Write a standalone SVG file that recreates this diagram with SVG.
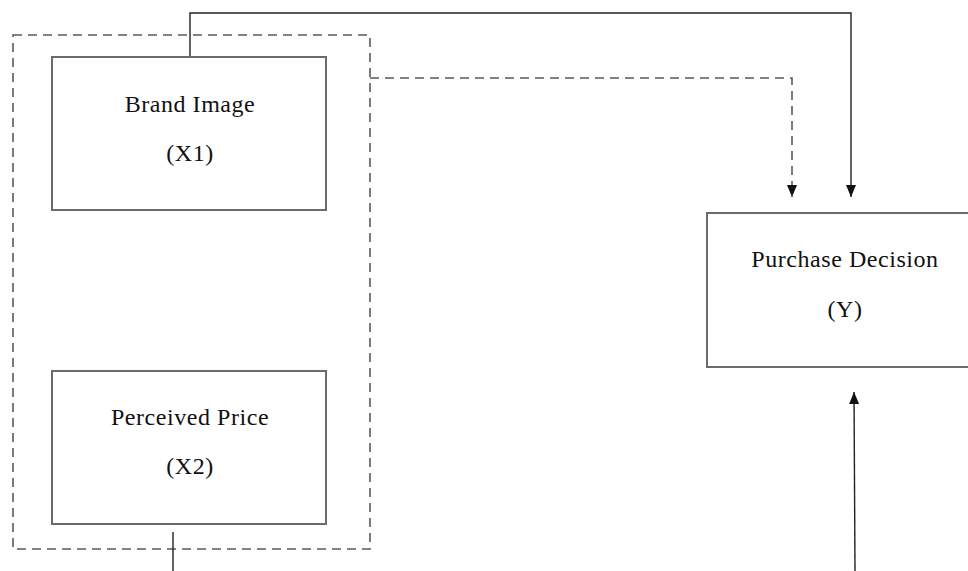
<svg xmlns="http://www.w3.org/2000/svg" width="968" height="571" viewBox="0 0 968 571">
<style>
.box{fill:#fff;stroke:#6b6b6b;stroke-width:2}
.dash{fill:none;stroke:#5a5a5a;stroke-width:1.6;stroke-dasharray:9 6}
.line{fill:none;stroke:#222;stroke-width:1.4}
.t{font-family:"Liberation Serif","Times New Roman",serif;font-size:24px;letter-spacing:0.55px;fill:#111;text-anchor:middle}
</style>
<defs>
<marker id="ah" markerWidth="12" markerHeight="10" refX="12" refY="5" orient="auto" markerUnits="userSpaceOnUse" viewBox="0 0 12 10">
<path d="M0,0 L12,5 L0,10 Z" fill="#111"/>
</marker>
</defs>
<rect width="968" height="571" fill="#fff"/>
<g id="group-x">
<rect class="dash" x="13" y="35" width="357" height="514"/>
</g>
<g id="connectors">
<polyline class="line" points="190,57 190,13 851,13 851,197" marker-end="url(#ah)"/>
<polyline class="dash" points="370,78 792,78 792,197" marker-end="url(#ah)"/>
<line class="line" x1="855" y1="571" x2="854" y2="392" marker-end="url(#ah)"/>
<line class="line" x1="173" y1="532" x2="173" y2="571"/>
</g>
<g id="brand-image">
<rect class="box" x="52" y="57" width="274" height="153"/>
<text class="t" x="190" y="112">Brand Image</text>
<text class="t" x="190" y="161">(X1)</text>
</g>
<g id="perceived-price">
<rect class="box" x="52" y="371" width="274" height="153"/>
<text class="t" x="190" y="425">Perceived Price</text>
<text class="t" x="190" y="474">(X2)</text>
</g>
<g id="purchase-decision">
<rect class="box" x="707" y="213" width="270" height="154"/>
<text class="t" x="845" y="267">Purchase Decision</text>
<text class="t" x="845" y="317">(Y)</text>
</g>
</svg>
